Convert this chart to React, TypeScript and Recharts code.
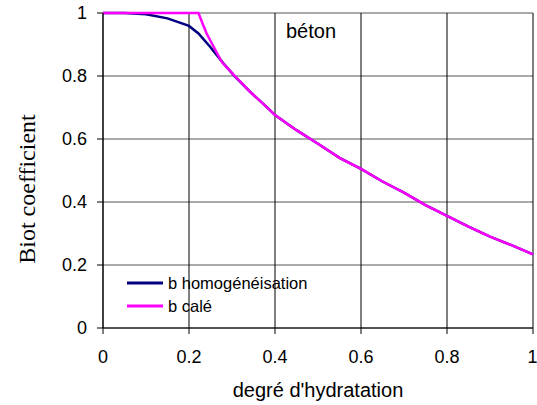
import React from "react";
import {
  LineChart,
  Line,
  XAxis,
  YAxis,
  CartesianGrid,
  Legend,
} from "recharts";

const X_TICKS = [0, 0.2, 0.4, 0.6, 0.8, 1];
const Y_TICKS = [0, 0.2, 0.4, 0.6, 0.8, 1];

// b homogénéisation
const HOMOG_X = [0, 0.05, 0.1, 0.15, 0.2, 0.222, 0.249, 0.28, 0.307, 0.342, 0.384, 0.4, 0.45, 0.5, 0.55, 0.6, 0.65, 0.7, 0.75, 0.8, 0.85, 0.9, 0.95, 1];
const HOMOG_Y = [1, 1, 0.996, 0.983, 0.959, 0.935, 0.893, 0.84, 0.798, 0.75, 0.697, 0.676, 0.628, 0.585, 0.54, 0.505, 0.465, 0.43, 0.39, 0.356, 0.322, 0.29, 0.263, 0.234];

// b calé
const CALE_X = [0, 0.1, 0.2, 0.222, 0.232, 0.241, 0.253, 0.276, 0.303, 0.342, 0.384, 0.4, 0.45, 0.5, 0.55, 0.6, 0.65, 0.7, 0.75, 0.8, 0.85, 0.9, 0.95, 1];
const CALE_Y = [1, 1, 1, 1, 0.965, 0.935, 0.904, 0.845, 0.805, 0.75, 0.697, 0.676, 0.628, 0.585, 0.54, 0.505, 0.465, 0.43, 0.39, 0.356, 0.322, 0.29, 0.263, 0.234];

const homogData = HOMOG_X.map((x, i) => ({ x, y: HOMOG_Y[i] }));
const caleData = CALE_X.map((x, i) => ({ x, y: CALE_Y[i] }));

const SERIES = [
  { name: "b homogénéisation", color: "#000080", data: homogData },
  { name: "b calé", color: "#FF00FF", data: caleData },
];

const SANS = "'Liberation Sans', Arial, sans-serif";
const tickStyle = { fontSize: 18, fill: "#000", fontFamily: SANS };

function renderLegend() {
  return (
    <div style={{ fontFamily: SANS, fontSize: 16.5, color: "#000" }}>
      {SERIES.map((s) => (
        <div key={s.name} style={{ display: "flex", alignItems: "center", height: 23.3 }}>
          <svg width={36} height={4} style={{ marginRight: 5 }}>
            <line x1={0} y1={2} x2={36} y2={2} stroke={s.color} strokeWidth={3} />
          </svg>
          <span style={{ lineHeight: "18px" }}>{s.name}</span>
        </div>
      ))}
    </div>
  );
}

export default function App() {
  return (
    <div style={{ position: "absolute", left: 0, top: 0, width: 537, height: 405, background: "#fff" }}>
      <LineChart width={537} height={405} margin={{ top: 13, right: 4, left: 0, bottom: 0 }}>
        <CartesianGrid vertical={false} stroke="#555" />
        <CartesianGrid horizontal={false} stroke="#000" />
        <XAxis
          type="number"
          dataKey="x"
          domain={[0, 1]}
          ticks={X_TICKS}
          height={77}
          tick={tickStyle}
          tickSize={6}
          tickMargin={16}
          stroke="#000"
          allowDuplicatedCategory={false}
          label={{
            value: "degré d'hydratation",
            position: "insideBottom",
            offset: 8,
            style: { fontSize: 20, fill: "#000", fontFamily: SANS },
          }}
        />
        <YAxis
          type="number"
          dataKey="y"
          domain={[0, 1]}
          ticks={Y_TICKS}
          width={103}
          tick={tickStyle}
          tickSize={6}
          tickMargin={10}
          stroke="#000"
          label={{
            content: () => (
              <text
                x={35}
                y={189}
                transform="rotate(-90 35 189)"
                textAnchor="middle"
                style={{ fontSize: 24, fill: "#000", fontFamily: "'Liberation Serif', 'Times New Roman', serif" }}
              >
                Biot coefficient
              </text>
            ),
          }}
        />
        <Legend
          layout="horizontal"
          align="center"
          verticalAlign="middle"
          content={renderLegend}
          wrapperStyle={{ position: "absolute", left: 127, top: 271, width: 220 }}
        />
        {SERIES.map((s) => (
          <Line
            key={s.name}
            data={s.data}
            dataKey="y"
            name={s.name}
            type="linear"
            stroke={s.color}
            strokeWidth={2.5}
            dot={false}
            activeDot={false}
            isAnimationActive={false}
          />
        ))}
      </LineChart>
      <div
        style={{
          position: "absolute",
          left: 286,
          top: 21,
          fontFamily: SANS,
          fontSize: 20,
          lineHeight: "20px",
          color: "#000",
        }}
      >
        béton
      </div>
    </div>
  );
}
